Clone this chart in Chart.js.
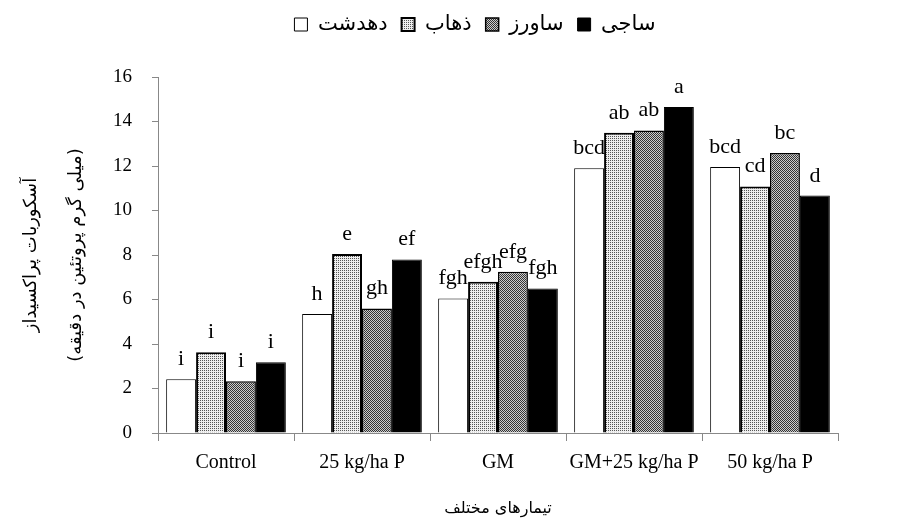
<!DOCTYPE html>
<html>
<head>
<meta charset="utf-8">
<script src="https://cdn.jsdelivr.net/npm/chart.js@4"></script>
<style>
  body { margin: 0; background: #fff; }
  #wrap { width: 922px; height: 528px; }
</style>
</head>
<body>
<div id="wrap"><canvas id="peroxidaseChart" width="922" height="528"></canvas></div>
<script>
// treatments and cultivars
const categories = ['Control', '25 kg/ha P', 'GM', 'GM+25 kg/ha P', '50 kg/ha P'];
const seriesNames = ['دهدشت', 'ذهاب', 'ساورز', 'ساجی'];

// values, one array per cultivar
const dehdasht = [2.42, 5.35, 6.05, 11.9, 11.95];
const zahab = [3.63, 8.05, 6.8, 13.5, 11.08];
const savarz = [2.33, 5.6, 7.25, 13.6, 12.58];
const saji = [3.18, 7.8, 6.5, 14.65, 10.67];

// significance letters above each bar
const lettersDehdasht = ['i', 'h', 'fgh', 'bcd', 'bcd'];
const lettersZahab = ['i', 'e', 'efgh', 'ab', 'cd'];
const lettersSavarz = ['i', 'gh', 'efg', 'ab', 'bc'];
const lettersSaji = ['i', 'ef', 'fgh', 'a', 'd'];

const yTicks = [0, 2, 4, 6, 8, 10, 12, 14, 16];

const serif = "'Liberation Serif', 'DejaVu Serif', serif";
const arabic = "'DejaVu Sans', sans-serif";

// tiny bitmap patterns for the dotted fills
function makePattern(bg, fg, cells) {
    const c = document.createElement('canvas');
    c.width = cells[0].length;
    c.height = cells.length;
    const g = c.getContext('2d');
    g.fillStyle = bg;
    g.fillRect(0, 0, c.width, c.height);
    g.fillStyle = fg;
    for (let y = 0; y < cells.length; y++) {
        for (let x = 0; x < cells[y].length; x++) {
            if (cells[y][x] === '1') g.fillRect(x, y, 1, 1);
        }
    }
    return g.createPattern(c, 'repeat');
}

const lightDots = makePattern('#eeeeee', '#555555', ['10', '00']);
const darkDots = makePattern('#cccccc', '#333333', ['10', '01']);

const letterPlugin = {
  id: 'bar_letters',
  afterDatasetsDraw: function(chart) {
      const ctx = chart.ctx;
      ctx.save();
      ctx.fillStyle = '#000';
      ctx.font = '22px ' + serif;
      ctx.textAlign = 'center';
      ctx.textBaseline = 'alphabetic';
      chart.data.datasets.forEach(function(ds, i) {
          const meta = chart.getDatasetMeta(i);
          meta.data.forEach(function(bar, j) {
              ctx.fillText(ds.letters[j], bar.x, bar.y - 14);
          });
      });
      ctx.restore();
  }
};

// leave empty room under the legend so the plot starts lower
const legendSpacePlugin = {
  id: 'legend_space',
  beforeLayout: function(chart) {
      const lg = chart.legend;
      if (lg && !lg.extraSpace) {
          const fit = lg.fit;
          lg.fit = function() {
              fit.call(this);
              this.height += 32;
          };
          lg.extraSpace = true;
      }
  }
};

const datasets = [
  { label: seriesNames[0], data: dehdasht, letters: lettersDehdasht, backgroundColor: '#ffffff', borderColor: '#000', borderWidth: 1 },
  { label: seriesNames[1], data: zahab, letters: lettersZahab, backgroundColor: lightDots, borderColor: '#000', borderWidth: 2 },
  { label: seriesNames[2], data: savarz, letters: lettersSavarz, backgroundColor: darkDots, borderColor: '#000', borderWidth: 1.5 },
  { label: seriesNames[3], data: saji, letters: lettersSaji, backgroundColor: '#000000', borderColor: '#000', borderWidth: 1 }
];

Chart.defaults.font.family = serif;
Chart.defaults.color = '#000';

new Chart(document.getElementById('peroxidaseChart'), {
  type: 'bar',
  data: { labels: categories, datasets: datasets },
  plugins: [letterPlugin, legendSpacePlugin],
  options: {
    responsive: false,
    animation: false,
    layout: { padding: { top: 0, right: 0, bottom: 0, left: 28 } },
    datasets: {
      bar: { categoryPercentage: 0.88, barPercentage: 1.0 }
    },
    scales: {
      x: {
        grid: { display: true, drawOnChartArea: false, offset: true, color: '#888', tickLength: 8 },
        border: { color: '#888' },
        ticks: { font: { size: 20 }, padding: 10, maxRotation: 0 },
        title: {
          display: true,
          text: 'تیمارهای مختلف',
          font: { size: 16, family: arabic },
          padding: { top: 20, bottom: 10 }
        },
        afterFit: function(scale) { scale.height = 95; }
      },
      y: {
        min: 0,
        max: 16,
        afterBuildTicks: function(scale) {
          scale.ticks = yTicks.map(function(v) { return { value: v }; });
        },
        grid: { display: true, drawOnChartArea: false, color: '#888', tickLength: 6 },
        border: { color: '#888' },
        ticks: { font: { size: 19 }, padding: 20 },
        title: {
          display: true,
          text: ['آسکوربات پراکسیداز', '(میلی گرم پروتئین در دقیقه)'],
          font: { size: 18, family: arabic, lineHeight: 2.5 },
          padding: { top: -19, bottom: 10 }
        },
        afterFit: function(scale) { scale.width = 130; }
      },
      // empty axis that only keeps the right margin free
      yRight: {
        position: 'right',
        min: 0,
        max: 16,
        grid: { display: false },
        border: { display: false },
        ticks: { display: false },
        afterFit: function(scale) { scale.width = 84; }
      }
    },
    plugins: {
      legend: {
        display: true,
        position: 'top',
        labels: {
          boxWidth: 13,
          boxHeight: 13,
          padding: 14,
          font: { size: 21, family: arabic }
        }
      },
      tooltip: { enabled: false }
    }
  }
});
</script>
</body>
</html>
